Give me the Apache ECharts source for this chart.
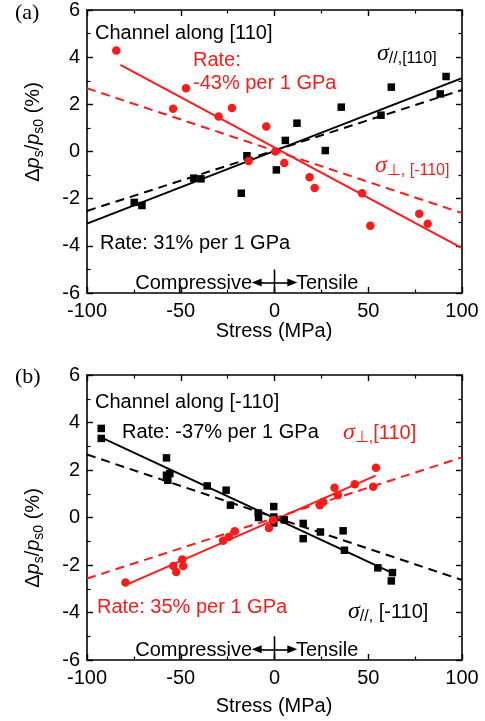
<!DOCTYPE html>
<html>
<head>
<meta charset="utf-8">
<script src="https://cdn.jsdelivr.net/npm/echarts@6/dist/echarts.min.js"></script>
<style>
  html, body { margin: 0; padding: 0; background: #fff; }
  #chart { width: 485px; height: 721px; }
</style>
</head>
<body>
<div id="chart"></div>
<script>
// Panel (a): channel along [110]
const aParallelPoints = [
  [-74.8, -2.16], [-70.7, -2.29], [-43.1, -1.13], [-39.2, -1.16], [-17.7, -1.77],
  [-14.7, -0.18], [1.0, -0.78], [5.8, 0.47], [12.0, 1.20], [27.1, 0.04],
  [35.6, 1.88], [56.8, 1.54], [62.3, 2.73], [88.4, 2.44], [91.5, 3.18]
];
const aPerpPoints = [
  [-84.4, 4.28], [-47.2, 2.68], [-54.1, 1.81], [-29.8, 1.48], [-22.7, 1.84],
  [-13.8, -0.40], [-4.4, 1.06], [0.4, 0.0], [5.2, -0.49], [18.7, -1.09],
  [21.4, -1.55], [46.7, -1.77], [51.1, -3.15], [77.2, -2.64], [81.7, -3.06]
];
const aParallelFit = [[-100, -3.06], [100, 3.11]];
const aParallelRef = [[-100, -2.52], [100, 2.61]];
const aPerpFit = [[-82.2, 3.67], [100, -4.10]];
const aPerpRef = [[-100, 2.68], [100, -2.61]];

// Panel (b): channel along [-110]
const bParallelPoints = [
  [-92.4, 3.75], [-92.4, 3.33], [-57.6, 2.51], [-57.6, 1.78], [-55.8, 1.85],
  [-56.9, 1.57], [-35.9, 1.33], [-25.8, 1.15], [-23.5, 0.52], [-8.7, 0.19],
  [-8.5, 0.0], [-0.4, 0.46], [-0.4, 0.02], [-0.4, -0.23], [5.2, -0.10],
  [15.3, -0.25], [15.3, -0.89], [24.5, -0.61], [36.6, -0.56], [37.3, -1.38],
  [55.1, -2.12], [62.9, -2.32], [62.3, -2.67]
];
const bPerpPoints = [
  [-79.5, -2.74], [-54.0, -2.04], [-52.4, -2.29], [-49.2, -1.77], [-48.7, -2.04],
  [-27.4, -0.98], [-24.4, -0.82], [-21.2, -0.58], [-3.0, -0.44], [-0.8, -0.10],
  [24.2, 0.52], [26.0, 0.66], [32.0, 1.25], [33.8, 0.94], [42.8, 1.40],
  [52.6, 1.29], [54.1, 2.09]
];
const bParallelFit = [[-92.5, 3.37], [63.6, -2.36]];
const bParallelRef = [[-100, 2.65], [100, -2.63]];
const bPerpFit = [[-79.5, -2.85], [53.9, 1.76]];
const bPerpRef = [[-100, -2.57], [100, 2.53]];

// Axis ranges and ticks
const xRange = [-100, 100];
const xStep = 50;
const yRange = [-6, 6];
const yStep = 2;
// Compressive / Tensile marker: vertical divider and arrow tips (MPa, %)
const dividerLine = [[0, -6], [0, -5.0]];
const arrowLevel = -5.55;
const arrowTips = [-9.5, 9.5];

const RED = '#ff1a1a';
const BLACK = '#000';
const FONT = '"Liberation Sans", Arial, sans-serif';
const SERIF = '"Liberation Serif", "Times New Roman", serif';

const chart = echarts.init(document.getElementById('chart'), null, { renderer: 'canvas' });

const grids = [
  { left: 87, right: 23, top: 10, height: 283 },
  { left: 87, right: 23, top: 375, height: 285 }
];

function xAxes(gi) {
  const base = {
    gridIndex: gi, type: 'value', min: xRange[0], max: xRange[1], interval: xStep,
    axisLine: { show: true, onZero: false, lineStyle: { color: BLACK, width: 1.6 } },
    axisTick: { show: true, inside: true, length: 6, lineStyle: { color: BLACK, width: 1.4 } },
    minorTick: { show: true, splitNumber: 2, length: 3.5, lineStyle: { color: BLACK, width: 1.2 } },
    splitLine: { show: false }
  };
  return [
    Object.assign({}, base, {
      position: 'bottom',
      axisLabel: { show: true, color: BLACK, fontSize: 20, fontFamily: FONT, margin: 8 }
    }),
    Object.assign({}, base, { position: 'top', axisLabel: { show: false } })
  ];
}
function yAxes(gi) {
  const base = {
    gridIndex: gi, type: 'value', min: yRange[0], max: yRange[1], interval: yStep,
    axisLine: { show: true, onZero: false, lineStyle: { color: BLACK, width: 1.6 } },
    axisTick: { show: true, inside: true, length: 6, lineStyle: { color: BLACK, width: 1.4 } },
    minorTick: { show: true, splitNumber: 2, length: 3.5, lineStyle: { color: BLACK, width: 1.2 } },
    splitLine: { show: false }
  };
  return [
    Object.assign({}, base, {
      position: 'left',
      axisLabel: { show: true, color: BLACK, fontSize: 20, fontFamily: FONT, margin: 7 }
    }),
    Object.assign({}, base, { position: 'right', axisLabel: { show: false } })
  ];
}

function fitLine(data, color, dashed, xi, yi) {
  return {
    type: 'line', xAxisIndex: xi, yAxisIndex: yi, data: data,
    showSymbol: false, symbol: 'none', silent: true, z: 2,
    lineStyle: { color: color, width: 2, type: dashed ? [9, 6] : 'solid' }
  };
}
function points(data, color, shape, size, xi, yi) {
  return {
    type: 'scatter', xAxisIndex: xi, yAxisIndex: yi, data: data,
    symbol: shape, symbolSize: size, z: 3,
    itemStyle: { color: color, opacity: 1 }
  };
}
function divider(xi, yi) {
  const lineStyle = { color: BLACK, width: 1.6, type: 'solid' };
  return {
    type: 'line', xAxisIndex: xi, yAxisIndex: yi, data: dividerLine,
    showSymbol: false, symbol: 'none', silent: true, z: 4,
    lineStyle: lineStyle,
    markLine: {
      silent: true, symbol: ['none', 'triangle'], symbolSize: [8, 10],
      label: { show: false }, lineStyle: lineStyle, animation: false,
      data: arrowTips.map(t => [{ coord: [0, arrowLevel] }, { coord: [t, arrowLevel] }])
    }
  };
}

const series = [];
// panel (a): x axes 0/1, y axes 0/1
series.push(fitLine(aParallelRef, BLACK, true, 0, 0));
series.push(fitLine(aPerpRef, RED, true, 0, 0));
series.push(fitLine(aParallelFit, BLACK, false, 0, 0));
series.push(fitLine(aPerpFit, RED, false, 0, 0));
series.push(points(aParallelPoints, BLACK, 'rect', 7.5, 0, 0));
series.push(points(aPerpPoints, RED, 'circle', 8.5, 0, 0));
series.push(divider(0, 0));
// panel (b): x axes 2/3, y axes 2/3
series.push(fitLine(bParallelRef, BLACK, true, 2, 2));
series.push(fitLine(bPerpRef, RED, true, 2, 2));
series.push(fitLine(bParallelFit, BLACK, false, 2, 2));
series.push(fitLine(bPerpFit, RED, false, 2, 2));
series.push(points(bParallelPoints, BLACK, 'rect', 7.5, 2, 2));
series.push(points(bPerpPoints, RED, 'circle', 8.5, 2, 2));
series.push(divider(2, 2));

// text helpers
function txt(x, y, text, color, opts) {
  return Object.assign({
    type: 'text', x: x, y: y, z: 10,
    style: Object.assign({
      text: text, fill: color, font: '20px ' + FONT,
      textAlign: 'left', textVerticalAlign: 'middle'
    }, (opts && opts.style) || {})
  }, (opts && opts.el) || {});
}
function richTxt(x, y, text, color, rich, align) {
  return {
    type: 'text', x: x, y: y, z: 10,
    style: {
      text: text, fill: color, fontFamily: FONT, fontSize: 20,
      align: align || 'left', verticalAlign: 'middle', rich: rich
    }
  };
}
const sigmaRich = (color) => ({
  s: { fontFamily: SERIF, fontStyle: 'italic', fontSize: 24, lineHeight: 26, fill: color, color: color },
  sub: { fontFamily: FONT, fontSize: 16, lineHeight: 14, verticalAlign: 'bottom', fill: color, color: color },
  n: { fontFamily: FONT, fontSize: 20, lineHeight: 26, fill: color, color: color }
});
const yNameRich = {
  n: { fontFamily: FONT, fontSize: 20, lineHeight: 26 },
  i: { fontFamily: FONT, fontSize: 20, fontStyle: 'italic', lineHeight: 26 },
  sub: { fontFamily: FONT, fontSize: 14, lineHeight: 14, verticalAlign: 'bottom' }
};
const yNameText = '{n|Δ}{i|p}{sub|s}{n|/}{i|p}{sub|s0}{n| (%)}';

function yName(cy) {
  return {
    type: 'text', x: 33, y: cy, rotation: Math.PI / 2, z: 10,
    style: {
      text: yNameText, fill: BLACK, fontFamily: FONT, fontSize: 20,
      align: 'center', verticalAlign: 'middle', rich: yNameRich
    }
  };
}

const graphic = [
  // panel (a)
  txt(15, 13, '(a)', BLACK, { style: { font: '22px ' + SERIF } }),
  yName(132),
  txt(274, 331, 'Stress (MPa)', BLACK, { style: { textAlign: 'center' } }),
  txt(95, 33, 'Channel along [110]', BLACK),
  txt(193, 60, 'Rate:', RED),
  txt(193, 83, '-43% per 1 GPa', RED),
  richTxt(377, 54, '{s|σ}{sub|//,[110]}', BLACK, sigmaRich(BLACK)),
  richTxt(375, 166, '{s|σ}{sub|⊥, [-110]}', RED, sigmaRich(RED)),
  txt(100, 243, 'Rate: 31% per 1 GPa', BLACK),
  txt(252, 283, 'Compressive', BLACK, { style: { textAlign: 'right' } }),
  txt(296, 283, 'Tensile', BLACK),
  // panel (b)
  txt(15, 377, '(b)', BLACK, { style: { font: '22px ' + SERIF } }),
  yName(538),
  txt(274, 706, 'Stress (MPa)', BLACK, { style: { textAlign: 'center' } }),
  txt(95, 402, 'Channel along [-110]', BLACK),
  txt(122, 432, 'Rate: -37% per 1 GPa', BLACK),
  richTxt(343, 433, '{s|σ}{sub|⊥,}{n|[110]}', RED, sigmaRich(RED)),
  txt(97, 607, 'Rate: 35% per 1 GPa', RED),
  richTxt(348, 612, '{s|σ}{sub|//,}{n| [-110]}', BLACK, sigmaRich(BLACK)),
  txt(252, 650, 'Compressive', BLACK, { style: { textAlign: 'right' } }),
  txt(296, 650, 'Tensile', BLACK)
];

chart.setOption({
  animation: false,
  backgroundColor: '#fff',
  grid: grids,
  xAxis: xAxes(0).concat(xAxes(1)),
  yAxis: yAxes(0).concat(yAxes(1)),
  series: series,
  graphic: graphic
});
</script>
</body>
</html>
